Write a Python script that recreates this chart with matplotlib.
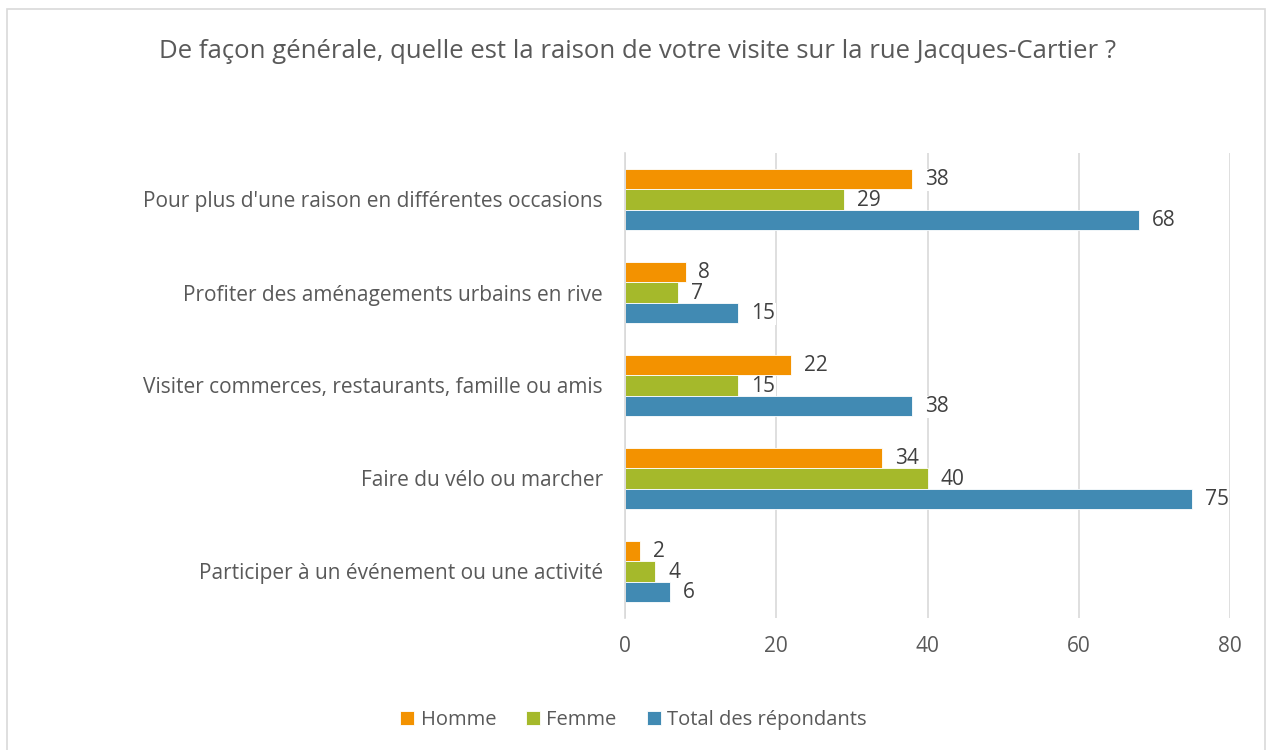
import numpy as np
import matplotlib.pyplot as plt
from matplotlib.patches import Rectangle

plt.rcParams['font.family'] = ['Open Sans', 'DejaVu Sans']

categories = ["Participer à un événement ou une activité",
              "Faire du vélo ou marcher",
              "Visiter commerces, restaurants, famille ou amis",
              "Profiter des aménagements urbains en rive",
              "Pour plus d'une raison en différentes occasions"]
homme = [2, 34, 22, 8, 38]
femme = [4, 40, 15, 7, 29]
total = [6, 75, 38, 15, 68]

series = [("Homme", homme, "#F39200"),
          ("Femme", femme, "#A5B92B"),
          ("Total des répondants", total, "#418AB3")]

fig = plt.figure(figsize=(12.67, 7.5), dpi=100)
ax = fig.add_axes([0.4933, 0.176, 0.4775, 0.62])

y = np.arange(len(categories))
h = 0.22
for k, (name, vals, col) in enumerate(series):
    pos = y + h * (1 - k)
    ax.barh(pos, vals, height=h, color=col, edgecolor="white", linewidth=0.6,
            label=name, zorder=2)
    for p, v in zip(pos, vals):
        # label box sits under the bars so it only hides the grid lines
        ax.text(v + 1.7, p - 0.01, str(v), va="center", ha="left", fontsize=15,
                color="#404040", zorder=1.5,
                bbox=dict(facecolor="white", edgecolor="none", pad=0.3))

ax.set_xlim(0, 80)
ax.set_ylim(-0.5, 4.5)
ax.set_xticks([0, 20, 40, 60, 80])
ax.set_yticks(y)
ax.set_yticklabels(categories)
ax.grid(axis="x", color="#D9D9D9", linewidth=1.2, zorder=0)
ax.set_axisbelow(True)
for s in ["top", "right", "bottom"]:
    ax.spines[s].set_visible(False)
ax.spines["left"].set_color("#D9D9D9")
ax.spines["left"].set_linewidth(1.2)
ax.tick_params(axis="both", length=0, labelsize=15, labelcolor="#595959")
ax.tick_params(axis="y", pad=16)
ax.tick_params(axis="x", pad=13)

fig.text(0.503, 0.932, "De façon générale, quelle est la raison de votre visite sur la rue Jacques-Cartier ?",
         ha="center", va="center", fontsize=18.5, color="#595959")

handles, labels = ax.get_legend_handles_labels()
fig.legend(handles, labels, loc="center", bbox_to_anchor=(0.500, 0.040), ncol=3,
           frameon=False, fontsize=14.5, labelcolor="#595959", handlelength=0.7,
           handleheight=0.7, handletextpad=0.3, columnspacing=1.5)

fig.patches.append(Rectangle((7 / 1267, -0.01), 1258 / 1267, 1 - 9 / 750 + 0.01,
                             transform=fig.transFigure, fill=False,
                             edgecolor="#D9D9D9", linewidth=1.2))

fig.savefig("out.png", dpi=100)
